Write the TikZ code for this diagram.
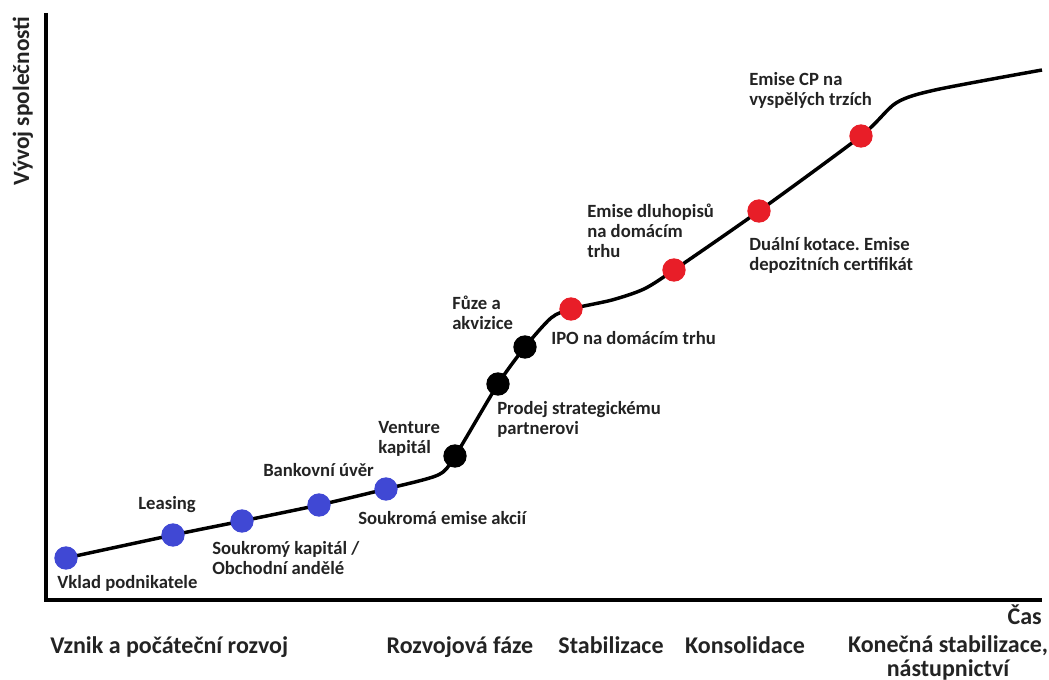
\documentclass[tikz,border=0pt]{standalone}
\usepackage{fontspec}
\setmainfont{Carlito}
\frenchspacing
\usetikzlibrary{backgrounds}
\definecolor{dotblue}{RGB}{64,72,212}
\definecolor{dotred}{RGB}{232,30,40}
\definecolor{textgray}{RGB}{35,35,35}

\begin{document}
\begin{tikzpicture}[x=0.75pt, y=-0.75pt,
    dot/.style={circle, fill=#1, inner sep=0pt, minimum size=17.5pt},
    lbl/.style={font=\bfseries\fontsize{14}{15}\selectfont, text=textgray, align=left, inner sep=0pt, anchor=base west},
    phase/.style={font=\bfseries\fontsize{18}{17.5}\selectfont, text=textgray, inner sep=0pt, anchor=base, align=center},
    curve/.style={line width=2.6pt, smooth, tension=0.45}
]
\useasboundingbox (0,0) rectangle (1049,680);

% Axes
\coordinate (origin) at (46,600);
\coordinate (ytop) at (46,13);
\coordinate (xend) at (1042,600);
\draw[line width=2.3pt] (ytop) -- (origin) -- (xend);
\node[phase, rotate=90, font=\bfseries\fontsize{17.5}{17}\selectfont] (ylabel) at (29,101) {Vývoj společnosti};
\node[phase, anchor=base east] (cas) at (1042,624) {Čas};

% Phases (base = last line)
\node[phase, anchor=base west] (vznik) at (50,653) {Vznik a počáteční rozvoj};
\node[phase] (rozvoj) at (460,653) {Rozvojová fáze};
\node[phase] (stab) at (611,653) {Stabilizace};
\node[phase] (konsol) at (745,653) {Konsolidace};
\node[phase] (konec) at (948,676) {Konečná stabilizace,\\nástupnictví};

% Dots
\node[dot=dotblue] (vklad) at (66,558) {};
\node[dot=dotblue] (leasing) at (173,535) {};
\node[dot=dotblue] (andele) at (242,521) {};
\node[dot=dotblue] (uver) at (319,505) {};
\node[dot=dotblue] (akcie) at (386,489) {};
\node[dot=black] (venture) at (455,456) {};
\node[dot=black] (prodej) at (498,384) {};
\node[dot=black] (fuze) at (525,347) {};
\node[dot=dotred] (ipo) at (571,309) {};
\node[dot=dotred] (dluhopisy) at (674,270) {};
\node[dot=dotred] (kotace) at (759,211) {};
\node[dot=dotred] (emisecp) at (861,136) {};

% Curve
\begin{scope}[on background layer]
\draw[curve] plot coordinates {(vklad.center) (leasing.center) (andele.center) (uver.center) (akcie.center) (438,475) (venture.center) (prodej.center) (fuze.center) (551,318) (ipo.center) (612,300) (644,289) (dluhopisy.center) (kotace.center) (emisecp.center) (896,103) (935,90) (1042,70)};
\end{scope}

% Labels (base = last line)
\node[lbl] (lvklad) at (57,588) {Vklad podnikatele};
\node[lbl, anchor=base] (lleasing) at (167,509) {Leasing};
\node[lbl] (landele) at (212,574) {Soukromý kapitál /\\Obchodní andělé};
\node[lbl] (luver) at (263,476) {Bankovní úvěr};
\node[lbl] (lakcie) at (358,524) {Soukromá emise akcií};
\node[lbl] (lventure) at (378,454) {Venture\\kapitál};
\node[lbl] (lprodej) at (497,435) {Prodej strategickému\\partnerovi};
\node[lbl] (lfuze) at (452,330) {Fůze a\\akvizice};
\node[lbl] (lipo) at (551,345) {IPO na domácím trhu};
\node[lbl] (ldluhopisy) at (587,258) {Emise dluhopisů\\na domácím\\trhu};
\node[lbl] (lkotace) at (749,271) {Duální kotace. Emise\\depozitních certifikát};
\node[lbl] (lemisecp) at (749,106) {Emise CP na\\vyspělých trzích};

\end{tikzpicture}
\end{document}
